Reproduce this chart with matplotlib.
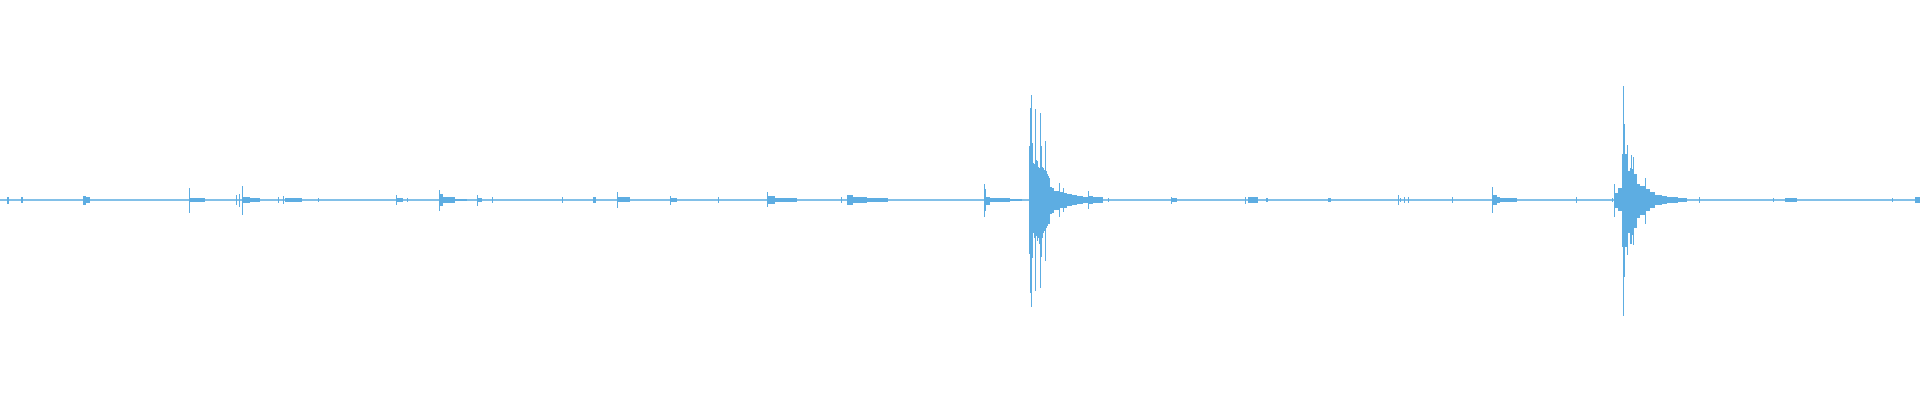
import numpy as np
import matplotlib
matplotlib.use('Agg')
import matplotlib.pyplot as plt

# waveform read off as peak envelope per column range (t = column index)
# amplitude in percent of full scale, up = positive peak, dn = negative peak

# small taps along the recording
tap_start = [7, 21, 83, 86, 189, 190, 236, 239, 242, 243, 250, 278, 283, 285, 318,
             396, 397, 407, 439, 440, 443, 455, 477, 478, 492, 562, 593, 617, 618,
             670, 671, 718, 767, 768, 775, 841, 847, 853, 867, 984, 985, 986, 990,
             1010, 1100, 1108, 1171, 1172, 1245, 1248, 1266, 1328, 1398, 1400, 1404,
             1408, 1452, 1492, 1493, 1497, 1500, 1576, 1612, 1773, 1785, 1892, 1915]
tap_end = [9, 23, 86, 90, 190, 205, 237, 240, 243, 250, 260, 279, 284, 302, 319,
           397, 403, 408, 440, 443, 455, 467, 478, 482, 493, 563, 596, 618, 630,
           671, 677, 719, 768, 775, 797, 842, 853, 867, 888, 985, 986, 990, 1010,
           1022, 1103, 1109, 1172, 1177, 1246, 1258, 1268, 1331, 1399, 1401, 1405,
           1409, 1453, 1493, 1497, 1500, 1517, 1577, 1613, 1774, 1797, 1893, 1920]
tap_up = [1.5, 1.5, 2, 1.5, 6, 1, 2.5, 3, 7, 1.5, 1, 1.5, 2, 0.8, 1,
          2.5, 1.2, 1, 5, 3, 1.5, 0.6, 2.5, 1, 1.5, 1.5, 1.5, 4, 1.5,
          2, 1, 1.5, 4, 2, 0.8, 1.5, 2.5, 1.3, 0.8, 8, 5.5, 1.5, 1.2,
          0.6, 1, 1, 1.5, 1, 1.5, 1.5, 1, 1, 2.5, 1, 1.5,
          1.5, 1.5, 6.5, 2.5, 1.5, 1, 1.5, 1, 1.2, 1, 1.2, 1.5]
tap_dn = [2, 1.5, 2.5, 1.5, 6.5, 1, 2.5, 3.5, 7.5, 1.5, 1, 1.5, 2, 0.8, 1,
          2.5, 1.2, 1, 5.5, 3, 1.5, 0.6, 3, 1, 1.5, 1.5, 1.5, 4, 1.2,
          2.5, 1, 1.5, 3.5, 1.8, 0.8, 1.5, 2.5, 1.3, 0.8, 8.5, 5.5, 2.5, 1.2,
          0.6, 1, 1, 2, 1, 2, 1.5, 1, 1, 2.5, 1, 1.5,
          1.5, 1.5, 6.5, 2.5, 1.5, 1, 1.5, 1, 1.2, 1, 1.2, 1.5]

# first big hit
hit1_start = [1029, 1030, 1031, 1032, 1033, 1034, 1035, 1036, 1037, 1038, 1039, 1040,
              1041, 1042, 1043, 1044, 1045, 1046, 1047, 1048, 1049, 1050, 1052, 1054,
              1059, 1060, 1063, 1064, 1067, 1072, 1077, 1083, 1088, 1089, 1093]
hit1_end = [1030, 1031, 1032, 1033, 1034, 1035, 1036, 1037, 1038, 1039, 1040, 1041,
            1042, 1043, 1044, 1045, 1046, 1047, 1048, 1049, 1050, 1052, 1054, 1059,
            1060, 1063, 1064, 1067, 1072, 1077, 1083, 1088, 1089, 1093, 1103]
hit1_up = [27, 46, 52.5, 28.5, 18.5, 18, 45.5, 20, 19.5, 16.5, 16, 43.5,
           27, 16.5, 16, 15, 29.5, 14.5, 13, 12, 11, 6.5, 6, 4.5,
           8.5, 4, 6, 3.5, 3, 2.5, 2, 1.3, 4.5, 2, 1.3]
hit1_dn = [27, 46.5, 53.5, 29, 16.5, 19, 45.5, 18, 20.5, 19, 22, 44,
           28.5, 19, 16.5, 15.5, 30.5, 14, 13, 12, 12, 7, 6.5, 5,
           8.5, 4, 6, 4, 3, 2.5, 2, 1.3, 4.5, 2, 1.3]

# second big hit
hit2_start = [1614, 1615, 1618, 1622, 1623, 1624, 1625, 1627, 1628, 1630, 1631, 1632,
              1633, 1634, 1637, 1640, 1645, 1646, 1650, 1655, 1662, 1667, 1678, 1699]
hit2_end = [1615, 1618, 1622, 1623, 1624, 1625, 1627, 1628, 1630, 1631, 1632, 1633,
            1634, 1637, 1640, 1645, 1646, 1650, 1655, 1662, 1667, 1678, 1687, 1700]
hit2_up = [8, 3.5, 6, 23, 57, 38, 23, 27.5, 14.5, 16, 22.5, 15.5,
           21.5, 13, 8, 7, 11, 5.5, 4, 2.5, 2, 1.5, 1, 1.5]
hit2_dn = [8.5, 4, 5.5, 23.5, 58, 38.5, 23.5, 27.5, 16.5, 22, 22, 17.5,
           22.5, 14, 9, 7.5, 12, 5.5, 4, 2.5, 2, 1.5, 1, 1.5]

wave_color = '#5dade2'

fig = plt.figure(figsize=(19.2, 4), dpi=100)
ax = fig.add_axes([0, 0, 1, 1])

ax.axhline(0, color=wave_color, lw=1.1)

for starts, ends, ups, dns in [(tap_start, tap_end, tap_up, tap_dn),
                               (hit1_start, hit1_end, hit1_up, hit1_dn),
                               (hit2_start, hit2_end, hit2_up, hit2_dn)]:
    x0 = np.array(starts)
    w = np.array(ends) - x0
    up = np.array(ups)
    dn = np.array(dns)
    ax.bar(x0, up + dn, width=w, bottom=-dn, align='edge',
           color=wave_color, linewidth=0, antialiased=False)

ax.set_xlim(0, 1920)
ax.set_ylim(-100, 100)
ax.axis('off')

fig.savefig('out.png', dpi=100, facecolor='white')
